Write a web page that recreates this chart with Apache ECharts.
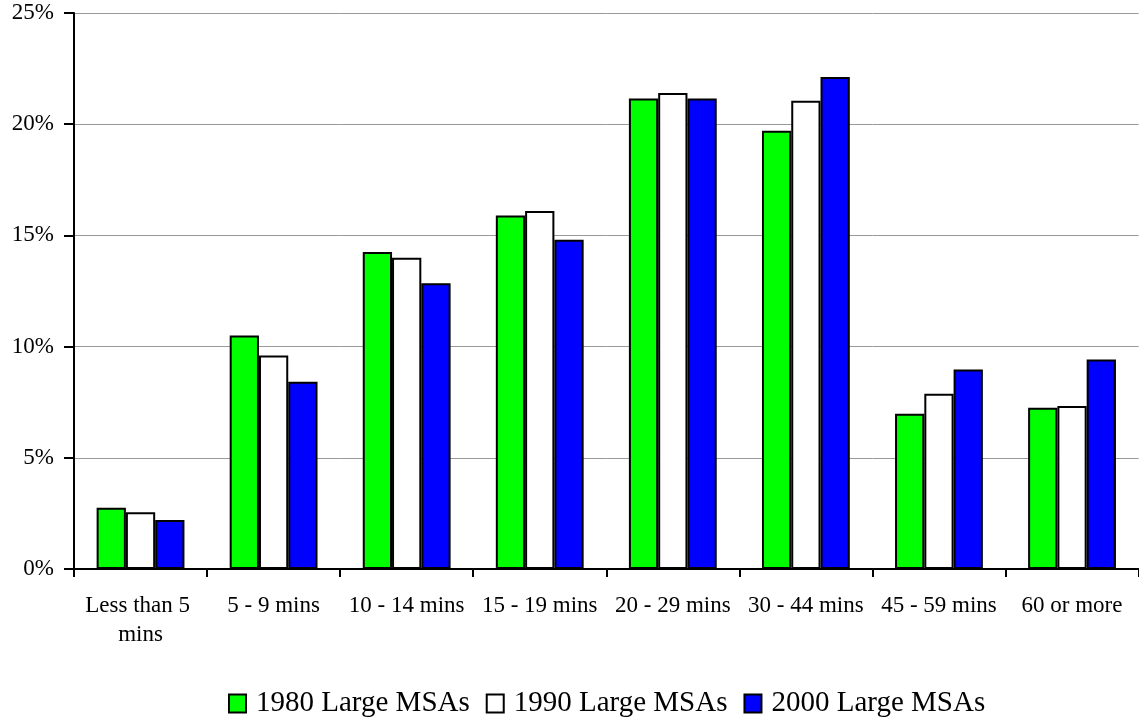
<!DOCTYPE html>
<html>
<head>
<meta charset="utf-8">
<script src="https://cdn.jsdelivr.net/npm/echarts@6/dist/echarts.min.js"></script>
<style>
  html, body { margin: 0; padding: 0; background: #fff; }
  #main { width: 1139px; height: 717px; }
</style>
</head>
<body>
<div id="main"></div>
<script>
// commute time buckets
var categories = [
  "Less than 5 mins",
  "5 - 9 mins",
  "10 - 14 mins",
  "15 - 19 mins",
  "20 - 29 mins",
  "30 - 44 mins",
  "45 - 59 mins",
  "60 or more"
];
// percent of commuters
var msa1980 = [2.75, 10.5, 14.25, 15.9, 21.15, 19.7, 6.98, 7.25];
var msa1990 = [2.55, 9.6, 14.0, 16.1, 21.4, 21.05, 7.88, 7.33];
var msa2000 = [2.2, 8.42, 12.85, 14.8, 21.15, 22.12, 8.97, 9.42];
var yTicks = [0, 5, 10, 15, 20, 25];

var font = "'Liberation Serif', 'Times New Roman', serif";
var barBorder = { borderColor: "#000", borderWidth: 2 };

var myChart = echarts.init(document.getElementById("main"));
var option = {
  animation: false,
  textStyle: { fontFamily: font },
  grid: {
    left: 74,
    right: 0,
    top: 13,
    bottom: 148
  },
  legend: {
    top: 684,
    left: 223,
    itemWidth: 17,
    itemHeight: 18,
    itemGap: 16,
    icon: "rect",
    textStyle: { fontFamily: font, fontSize: 29, color: "#000", padding: [0, 0, 0, 5] },
    data: ["1980 Large MSAs", "1990 Large MSAs", "2000 Large MSAs"]
  },
  xAxis: {
    type: "category",
    data: categories,
    axisLine: { lineStyle: { color: "#000", width: 2 } },
    axisTick: { show: true, length: 8, lineStyle: { color: "#000", width: 2 } },
    axisLabel: {
      fontFamily: font,
      fontSize: 23,
      color: "#000",
      margin: 22,
      lineHeight: 29,
      width: 128,
      overflow: "break",
      interval: 0
    }
  },
  yAxis: {
    type: "value",
    min: yTicks[0],
    max: yTicks[yTicks.length - 1],
    interval: 5,
    axisLine: { show: true, lineStyle: { color: "#000", width: 2 } },
    axisTick: { show: true, length: 10, lineStyle: { color: "#000", width: 2 } },
    axisLabel: {
      fontFamily: font,
      fontSize: 23,
      color: "#000",
      margin: 20,
      formatter: "{value}%"
    },
    splitLine: { lineStyle: { color: "#999", width: 1 } }
  },
  series: [
    {
      name: "1980 Large MSAs",
      type: "bar",
      data: msa1980,
      barGap: "0%",
      barCategoryGap: "34%",
      itemStyle: Object.assign({ color: "#00ff00" }, barBorder)
    },
    {
      name: "1990 Large MSAs",
      type: "bar",
      data: msa1990,
      itemStyle: Object.assign({ color: "#ffffff" }, barBorder)
    },
    {
      name: "2000 Large MSAs",
      type: "bar",
      data: msa2000,
      itemStyle: Object.assign({ color: "#0000ff" }, barBorder)
    }
  ]
};
myChart.setOption(option);
</script>
</body>
</html>
